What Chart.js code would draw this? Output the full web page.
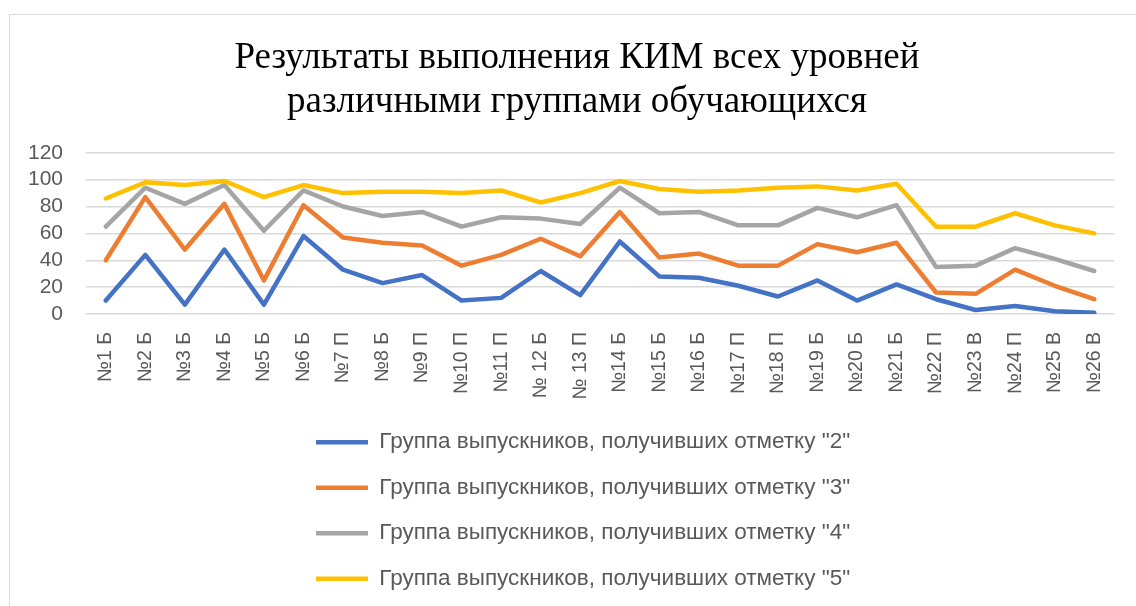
<!DOCTYPE html>
<html>
<head>
<meta charset="utf-8">
<script src="https://cdn.jsdelivr.net/npm/chart.js@4/dist/chart.umd.min.js"></script>
<style>
  body{margin:0;background:#fff;}
  #wrap{position:relative;width:1136px;height:606px;overflow:hidden;}
  #frame{position:absolute;left:9px;top:14px;width:1200px;height:700px;border:1px solid #d9d9d9;pointer-events:none;}
</style>
</head>
<body>
<div id="wrap">
  <canvas id="kimChart" width="1136" height="606"></canvas>
  <div id="frame"></div>
</div>
<script>
// tasks (x axis categories)
const labels=["№1 Б","№2 Б","№3 Б","№4 Б","№5 Б","№6 Б","№7 П","№8 Б","№9 П","№10 П","№11 П","№ 12 Б","№ 13 П",
  "№14 Б","№15 Б","№16 Б","№17 П","№18 П","№19 Б","№20 Б","№21 Б","№22 П","№23 В","№24 П","№25 В","№26 В"];

// percent of completion for each group
const mark2=[10,44,7,48,7,58,33,23,29,10,12,32,14,54,28,27,21,13,25,10,22,11,3,6,2,1];
const mark3=[40,87,48,82,25,81,57,53,51,36,44,56,43,76,42,45,36,36,52,46,53,16,15,33,21,11];
const mark4=[65,94,82,96,62,92,80,73,76,65,72,71,67,94,75,76,66,66,79,72,81,35,36,49,41,32];
const mark5=[86,98,96,99,87,96,90,91,91,90,92,83,90,99,93,91,92,94,95,92,97,65,65,75,66,60];

const yTicks=[0,20,40,60,80,100,120];

const seriesNames=[
  'Группа выпускников, получивших отметку "2"',
  'Группа выпускников, получивших отметку "3"',
  'Группа выпускников, получивших отметку "4"',
  'Группа выпускников, получивших отметку "5"'
];
const colors=['#4472C4','#ED7D31','#A5A5A5','#FFC000'];

Chart.defaults.font.family="'Liberation Sans', Arial, sans-serif";

// moves the legend and the title so they sit where the original ones do
const blockShift={
  id:'blockShift',
  afterLayout(chart){
    const lg=chart.legend;
    const pad=lg.options.labels.padding;
    const start=(lg.left+pad+lg.right-lg.lineWidths[0])/2;
    const dx=316-start;
    lg.left+=dx;
    lg.right+=dx;
    // title centre ~577
    const tb=chart.titleBlock;
    const tdx=577-(tb.left+tb.right)/2;
    tb.left+=tdx;
    tb.right+=tdx;
  }
};

function makeSet(i,data){
  return {
    label:seriesNames[i],
    data:data,
    borderColor:colors[i],
    backgroundColor:colors[i],
    borderWidth:4.5,
    borderCapStyle:'round',
    borderJoinStyle:'round',
    pointRadius:0,
    tension:0,
    order:4-i
  };
}

const ctx=document.getElementById('kimChart').getContext('2d');
new Chart(ctx,{
  type:'line',
  data:{
    labels:labels,
    datasets:[makeSet(0,mark2),makeSet(1,mark3),makeSet(2,mark4),makeSet(3,mark5)]
  },
  options:{
    responsive:false,
    animation:false,
    layout:{padding:{left:0,right:18,top:0,bottom:6}},
    plugins:{
      title:{
        display:true,
        text:['Результаты выполнения КИМ всех уровней','различными группами обучающихся'],
        color:'#000',
        font:{family:"'Liberation Serif', 'Times New Roman', serif",size:37,weight:'normal',lineHeight:1.2},
        padding:{top:36,bottom:28}
      },
      legend:{
        position:'bottom',
        fullSize:false,
        labels:{
          color:'#595959',
          font:{size:22.5},
          usePointStyle:true,
          pointStyle:'line',
          pointStyleWidth:52,
          padding:23,
          sort:(a,b)=>a.datasetIndex-b.datasetIndex
        }
      },
      tooltip:{enabled:false}
    },
    scales:{
      x:{
        offset:true,
        grid:{display:false,drawTicks:false},
        border:{display:false},
        ticks:{
          color:'#595959',
          font:{size:19.5},
          autoSkip:false,
          minRotation:90,
          maxRotation:90,
          padding:18
        },
        afterFit(scale){scale.height=94;}
      },
      y:{
        min:0,
        max:120,
        afterBuildTicks(scale){scale.ticks=yTicks.map(v=>({value:v}));},
        grid:{color:'#d9d9d9',lineWidth:1.5,drawTicks:false},
        border:{display:false},
        ticks:{color:'#595959',font:{size:21},padding:23,autoSkip:false},
        afterFit(scale){scale.width=86;}
      }
    }
  },
  plugins:[blockShift]
});
</script>
</body>
</html>
